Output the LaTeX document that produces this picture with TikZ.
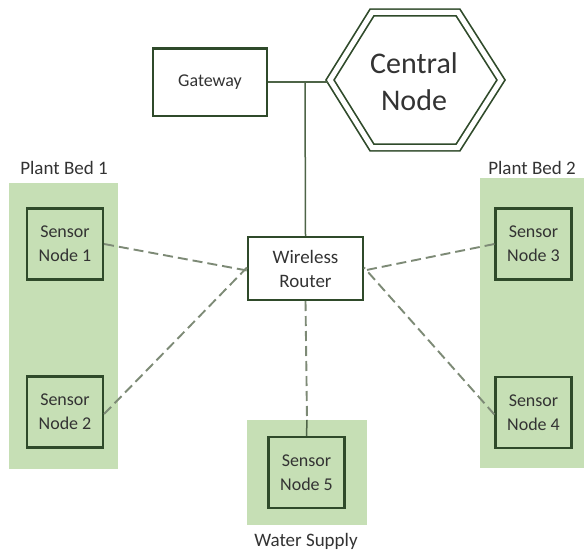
\documentclass[tikz,border=0pt]{standalone}
\usepackage{fontspec}
\setmainfont{Carlito}
\begin{document}
\begin{tikzpicture}[x=1pt,y=-1pt,
  bedbox/.style={fill=bedgreen,draw=none,inner sep=0pt},
  sensorbox/.style={draw=darkgreen,line width=2.2pt,fill=bedgreen,minimum width=76pt,minimum height=71pt,align=center,inner sep=0pt,font=\fontsize{18}{24}\selectfont,text=textgrey},
  whitebox/.style={draw=darkgreen,line width=2pt,fill=white,align=center,inner sep=0pt,text=textgrey},
  wlink/.style={draw=dashgrey,line width=1.9pt,dash pattern=on 10pt off 5pt},
  solidlink/.style={draw=linegreen,line width=1.5pt},
  lbl/.style={font=\fontsize{19}{22}\selectfont,text=textgrey}]
\definecolor{bedgreen}{HTML}{C6DFB5}
\definecolor{darkgreen}{HTML}{2F4A2A}
\definecolor{textgrey}{HTML}{333333}
\definecolor{dashgrey}{HTML}{7D8A76}
\definecolor{linegreen}{HTML}{4E6447}
\useasboundingbox (0,0) rectangle (585,551);
\fill[white] (0,0) rectangle (585,551);
% beds
\node[bedbox,minimum width=109pt,minimum height=286pt] (bed1) at (63.5,326) {};
\node[bedbox,minimum width=104pt,minimum height=290pt] (bed2) at (532,323) {};
\node[bedbox,minimum width=120pt,minimum height=105pt] (bed5) at (307,472.5) {};
\node[lbl,anchor=base] (lb1) at (64,174) {Plant Bed 1};
\node[lbl,anchor=base] (lb2) at (532,174) {Plant Bed 2};
\node[lbl,anchor=base] (lb5) at (306,546) {Water Supply};
% sensors
\node[sensorbox] (s1) at (65,244) {Sensor\\Node 1};
\node[sensorbox] (s2) at (65,412) {Sensor\\Node 2};
\node[sensorbox] (s3) at (533.5,244) {Sensor\\Node 3};
\node[sensorbox] (s4) at (533.5,412.5) {Sensor\\Node 4};
\node[sensorbox] (s5) at (306.5,472.5) {Sensor\\Node 5};
% gateway, router
\node[whitebox,minimum width=114pt,minimum height=67pt,font=\fontsize{18}{22}\selectfont] (gw) at (210,82) {Gateway};
\node[whitebox,minimum width=115pt,minimum height=63pt,font=\fontsize{19}{24}\selectfont] (rt) at (305.5,268.5) {Wireless\\Router};
% central node
\node[font=\fontsize{30}{37}\selectfont,align=center,text=black!80,inner sep=0pt] (cn) at (414,82) {Central\\Node};
\coordinate (hexL) at (328,82);
\draw[darkgreen,line width=1.7pt,double=white,double distance=5pt,line join=miter]
  (330,80) -- (372,12.5) -- (458,12.5) -- (501,80) -- (458,147.5) -- (372,147.5) -- cycle;
\coordinate (junc) at (305,82);
\draw[solidlink] (gw.east) -- (hexL);
\draw[solidlink] (junc) -- (rt.north);
% wireless links
\draw[wlink] (s1.east) -- ([yshift=-2pt]rt.west);
\draw[wlink] ([yshift=-2pt]s2.east) -- ([yshift=1pt]rt.west);
\draw[wlink] (s3.west) -- ([yshift=-2pt]rt.east);
\draw[wlink] ([yshift=-2pt]s4.west) -- ([yshift=1pt]rt.east);
\draw[wlink] (rt.south) -- (bed5.north);
\draw[solidlink] (bed5.north) -- (s5.north);
\end{tikzpicture}
\end{document}
